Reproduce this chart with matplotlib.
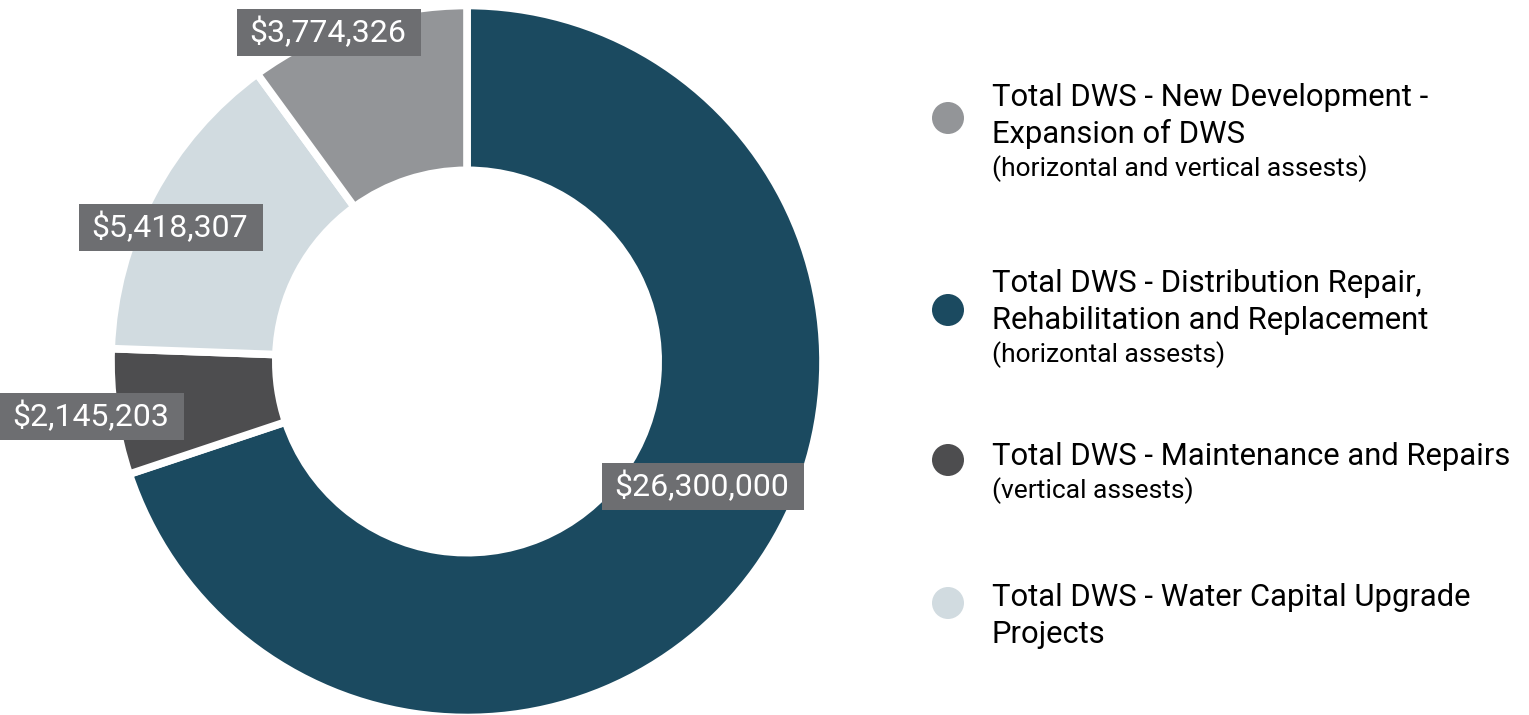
import matplotlib
matplotlib.use("Agg")
import matplotlib.pyplot as plt
from matplotlib.patches import Rectangle
import numpy as np

plt.rcParams['font.family'] = ['Roboto', 'DejaVu Sans']

# ---- data ----
slice_values = [26300000, 2145203, 5418307, 3774326]
slice_labels = ["$26,300,000", "$2,145,203", "$5,418,307", "$3,774,326"]
slice_colors = ["#1b4a60", "#4d4d4f", "#d1dbe0", "#939598"]

legend_titles = [
    ["Total DWS - New Development -", "Expansion of DWS"],
    ["Total DWS - Distribution Repair,", "Rehabilitation and Replacement"],
    ["Total DWS - Maintenance and Repairs"],
    ["Total DWS - Water Capital Upgrade", "Projects"],
]
legend_subtitles = [
    "(horizontal and vertical assests)",
    "(horizontal assests)",
    "(vertical assests)",
    None,
]
legend_colors = ["#939598", "#1b4a60", "#4d4d4f", "#d1dbe0"]

# ---- layout ----
W, H = 1529, 715
fig = plt.figure(figsize=(W / 100, H / 100), dpi=100)
fig.patch.set_facecolor("white")

cx, cy, R = 467, 361.5, 356
pax = fig.add_axes([(cx - R) / W, (H - cy - R) / H, 2 * R / W, 2 * R / H])
wedges, _ = pax.pie(slice_values, colors=slice_colors, startangle=90,
                    counterclock=False, radius=1,
                    wedgeprops=dict(width=0.463, edgecolor="white", linewidth=5.5))
pax.set_xlim(-1, 1)
pax.set_ylim(-1, 1)
pax.set_aspect("equal")
pax.axis("off")

# overlay layer in pixel coordinates (top-left origin)
lax = fig.add_axes([0, 0, 1, 1])
lax.set_xlim(0, W)
lax.set_ylim(H, 0)
lax.axis("off")
lax.patch.set_alpha(0)

# value labels placed around each wedge's mid angle
label_r = [0.747, 1.068, 0.917, 1.003]
label_dang = [7.8, 0.1, 3.7, 4.9]
fig.canvas.draw()
renderer = fig.canvas.get_renderer()
for w, lab, r, da in zip(wedges, slice_labels, label_r, label_dang):
    ang = np.deg2rad((w.theta1 + w.theta2) / 2 + da)
    t = lax.text(0, 0, lab, ha="center", va="center", color="white",
                 fontsize=23, zorder=3)
    px, py = pax.transData.transform((r * np.cos(ang), r * np.sin(ang)))
    t.set_position((px, H - py))
    bb = t.get_window_extent(renderer)
    x0 = bb.x0 - 12
    x1 = bb.x1 + 15
    lax.add_patch(Rectangle((x0, H - py - 23.5), x1 - x0, 47,
                            facecolor="#6d6e71", edgecolor="none", zorder=2))

# legend
marker_y = [118, 310, 460, 603]
first_baseline = [106, 292, 465, 606]
line_gap = 37
sub_gap = 33
text_x = 992
marker_x = 948
for col, my, fb, titles, sub in zip(legend_colors, marker_y, first_baseline,
                                    legend_titles, legend_subtitles):
    lax.scatter([marker_x], [my], s=(32 * 0.72) ** 2, color=col, zorder=3,
                edgecolors="none")
    y = fb
    for i, line in enumerate(titles):
        lax.text(text_x, y, line, ha="left", va="baseline", fontsize=22.3,
                 color="black")
        if i < len(titles) - 1:
            y += line_gap
    if sub:
        y += sub_gap
        lax.text(text_x, y, sub, ha="left", va="baseline", fontsize=19,
                 color="black")

fig.savefig("out.png", dpi=100, facecolor="white")
